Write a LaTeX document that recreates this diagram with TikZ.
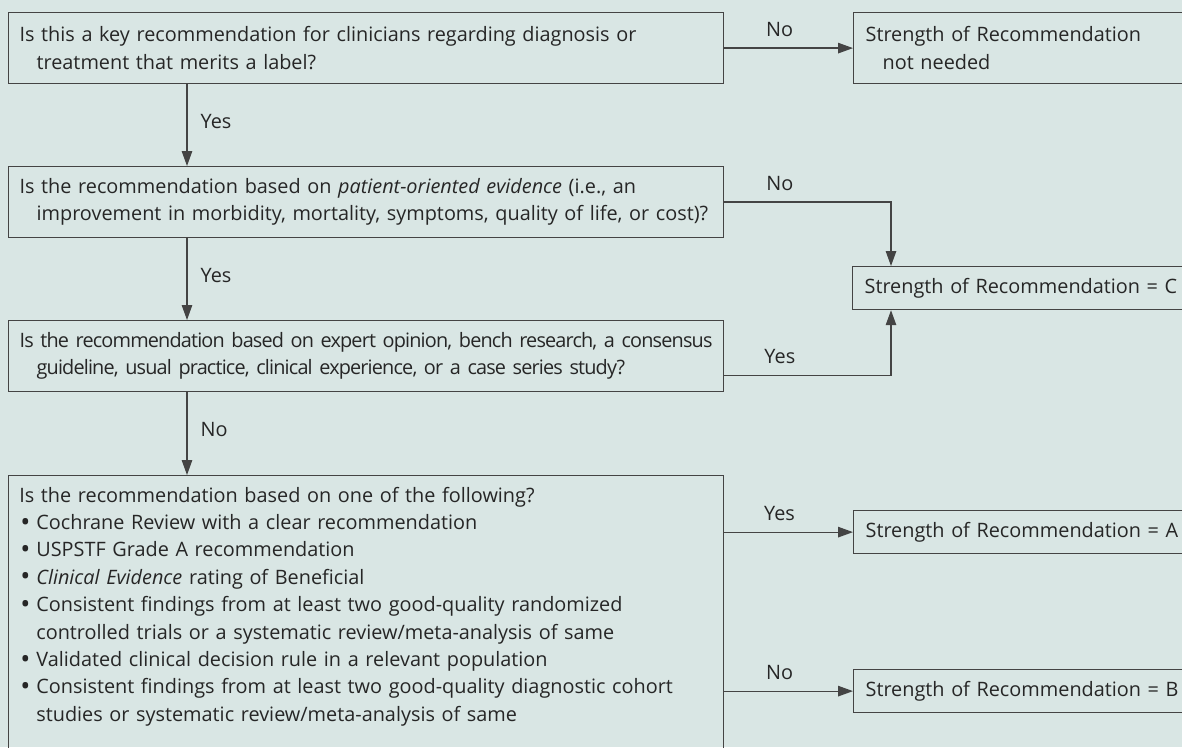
\documentclass[tikz,border=0pt]{standalone}
\usepackage{fontspec}
\setmainfont{Open Sans}
\usepackage{xcolor}
\usepackage{graphicx}
\usetikzlibrary{arrows.meta}
\definecolor{bgteal}{RGB}{217,230,228}
\definecolor{inkgray}{RGB}{38,38,38}
\definecolor{linegray}{RGB}{68,68,68}
\newcommand{\ind}{\hspace*{0.34cm}}
\newcommand{\blt}{\makebox[0.34cm][l]{\hspace*{0.02cm}\raisebox{-0.15ex}{\scalebox{1.35}{\textbullet}}}}

\begin{document}
\begin{tikzpicture}[x=0.02cm,y=-0.02cm,
  every node/.style={font=\fontsize{11.3}{15.6}\selectfont,text=inkgray},
  qbox/.style={draw=linegray,line width=0.7pt,anchor=north west,inner xsep=0.22cm,inner ysep=0pt,
    minimum width=14.3cm,minimum height=1.42cm,text width=13.86cm,align=left},
  sbox/.style={draw=linegray,line width=0.7pt,anchor=north west,inner xsep=0.24cm,inner ysep=0pt,
    minimum width=8cm,minimum height=0.86cm,text width=7.52cm,align=left},
  arr/.style={draw=linegray,line width=0.7pt,-{Triangle[length=0.3cm,width=0.21cm]}},
  lbl/.style={inner sep=0pt}]
\useasboundingbox (0,0) rectangle (1182,747);
\clip (0,0) rectangle (1182,747);
\fill[bgteal] (0,0) rectangle (1182,747);

\coordinate (spine) at (187,0);
\coordinate (cdrop) at (891,0);

\node[qbox] (q1) at (8,12) {Is this a key recommendation for clinicians regarding diagnosis or\\\ind treatment that merits a label?};
\node[sbox,minimum height=1.42cm] (nn) at (853,12) {Strength of Recommendation\\\ind not needed};
\draw[arr] (q1) -- (nn) node[lbl,pos=0.43,above=0.22cm] {No};

\node[qbox] (q2) at (8,166) {Is the recommendation based on \textit{patient-oriented evidence} (i.e., an\\\ind improvement in morbidity, mortality, symptoms, quality of life, or cost)?};
\draw[arr] (q1.south -| spine) -- (q2.north -| spine) node[lbl,pos=0.45,right=0.26cm] {Yes};

\node[sbox] (rc) at (852,266) {Strength of Recommendation = C};
\draw[arr] (q2.east) -| (rc.north -| cdrop) node[lbl,pos=0.167,above=0.22cm] {No};

% this box is set tighter
\node[qbox,font=\fontsize{11.3}{15.6}\selectfont\addfontfeature{LetterSpace=-4.2}] (q3) at (8,320) {\mbox{Is the recommendation based on expert opinion, bench research, a consensus}\\\ind guideline, usual practice, clinical experience, or a case series study?};
\draw[arr] (q2.south -| spine) -- (q3.north -| spine) node[lbl,pos=0.45,right=0.26cm] {Yes};
\draw[arr] ([yshift=0.34cm]q3.south east) -| (rc.south -| cdrop) node[lbl,pos=0.167,above=0.22cm] {Yes};

% last question: frame and text apart
\node[qbox,minimum height=6cm] (q4) at (8,475) {};
\node[anchor=north west,inner sep=0pt,text width=13.86cm,align=left] (q4txt) at ([xshift=0.22cm,yshift=-0.23cm]q4.north west) {Is the recommendation based on one of the following?\\
\blt Cochrane Review with a clear recommendation\\
\blt USPSTF Grade A recommendation\\
\blt\textit{Clinical Evidence} rating of Beneficial\\
\blt Consistent findings from at least two good-quality randomized\\
\ind controlled trials or a systematic review/meta-analysis of same\\
\blt Validated clinical decision rule in a relevant population\\
\blt Consistent findings from at least two good-quality diagnostic cohort\\
\ind studies or systematic review/meta-analysis of same};
\draw[arr] (q3.south -| spine) -- (q4.north -| spine) node[lbl,pos=0.45,right=0.26cm] {No};

\node[sbox] (ra) at (853,510) {Strength of Recommendation = A};
\node[sbox] (rb) at (853,669) {Strength of Recommendation = B};
\draw[arr] (q4.east |- ra.west) -- (ra.west) node[lbl,pos=0.43,above=0.22cm] {Yes};
\draw[arr] (q4.east |- rb.west) -- (rb.west) node[lbl,pos=0.43,above=0.22cm] {No};
\end{tikzpicture}
\end{document}
